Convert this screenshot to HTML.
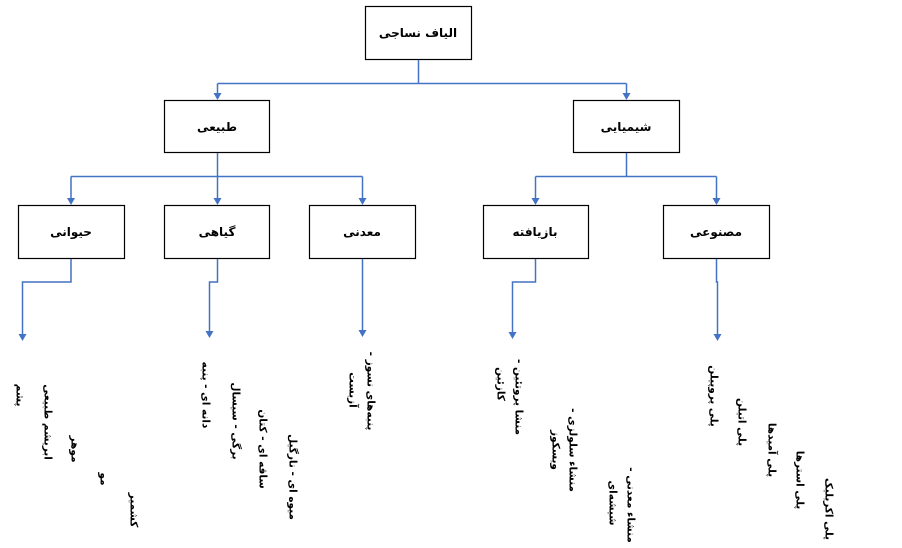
<!DOCTYPE html>
<html>
<head>
<meta charset="utf-8">
<style>
html,body{margin:0;padding:0;background:#fff;}
#c{position:relative;width:902px;height:548px;overflow:hidden;background:#fff;}
svg{position:absolute;left:0;top:0;}
.b{position:absolute;font-family:"DejaVu Sans","Liberation Sans",sans-serif;font-weight:bold;font-size:12px;color:#000;white-space:nowrap;transform:translate(-50%,-50%);direction:rtl;}
.r{position:absolute;font-family:"DejaVu Sans","Liberation Sans",sans-serif;font-weight:bold;font-size:10.5px;color:#000;white-space:nowrap;transform:translate(-50%,-50%) rotate(90deg);direction:rtl;line-height:1;}
</style>
</head>
<body>
<div id="c">
<svg width="902" height="548" viewBox="0 0 902 548">
<g fill="#fff" stroke="#000" stroke-width="1.2">
<rect x="365.5" y="6.5" width="106" height="53"/>
<rect x="164.5" y="100.5" width="105" height="52"/>
<rect x="573.5" y="100.5" width="106" height="52"/>
<rect x="18.5" y="205.5" width="106" height="53"/>
<rect x="164.5" y="205.5" width="105" height="53"/>
<rect x="309.5" y="205.5" width="106" height="53"/>
<rect x="483.5" y="205.5" width="105" height="53"/>
<rect x="663.5" y="205.5" width="106" height="53"/>
</g>
<g fill="none" stroke="#4472C4" stroke-width="1.5">
<path d="M418.5,60 V83.5 M217.5,83.5 H626.5 M217.5,83.5 V94 M626.5,83.5 V94"/>
<path d="M217.5,153 V176.5 M71,176.5 H362.5 M71,176.5 V199 M217.5,176.5 V199 M362.5,176.5 V199"/>
<path d="M626.5,153 V176.5 M535.5,176.5 H716.5 M535.5,176.5 V199 M716.5,176.5 V199"/>
<path d="M71,259 V282 H22.5 V335"/>
<path d="M217.5,259 V282 H209.5 V332"/>
<path d="M362.5,259 V331"/>
<path d="M535.5,259 V282 H512.5 V333"/>
<path d="M716.5,259 V282 H717.5 V335"/>
</g>
<g fill="#4472C4">
<polygon points="213.5,93 221.5,93 217.5,100"/>
<polygon points="622.5,93 630.5,93 626.5,100"/>
<polygon points="67,198 75,198 71,205"/>
<polygon points="213.5,198 221.5,198 217.5,205"/>
<polygon points="358.5,198 366.5,198 362.5,205"/>
<polygon points="531.5,198 539.5,198 535.5,205"/>
<polygon points="712.5,198 720.5,198 716.5,205"/>
<polygon points="18.5,334 26.5,334 22.5,341"/>
<polygon points="205.5,331 213.5,331 209.5,338"/>
<polygon points="358.5,330 366.5,330 362.5,337"/>
<polygon points="508.5,332 516.5,332 512.5,339"/>
<polygon points="713.5,334 721.5,334 717.5,341"/>
</g>
</svg>

<div class="b" style="left:418px;top:33px;">الیاف نساجی</div>
<div class="b" style="left:217px;top:127px;">طبیعی</div>
<div class="b" style="left:626px;top:127px;">شیمیایی</div>
<div class="b" style="left:71px;top:232px;">حیوانی</div>
<div class="b" style="left:217px;top:232px;">گیاهی</div>
<div class="b" style="left:362px;top:232px;">معدنی</div>
<div class="b" style="left:535px;top:232px;">بازیافته</div>
<div class="b" style="left:716px;top:232px;">مصنوعی</div>

<!-- حیوانی -->
<div class="r" style="left:19px;top:395px;">پشم</div>
<div class="r" style="left:47px;top:422px;">ابریشم طبیعی</div>
<div class="r" style="left:74px;top:449px;">موهر</div>
<div class="r" style="left:103px;top:479px;">مو</div>
<div class="r" style="left:133px;top:510px;">کشمیر</div>

<!-- گیاهی -->
<div class="r" style="left:205px;top:395px;">دانه ای - پنبه</div>
<div class="r" style="left:235px;top:421px;">برگی - سیسال</div>
<div class="r" style="left:262px;top:449px;">ساقه ای - کتان</div>
<div class="r" style="left:292px;top:477px;">میوه ای - نارگیل</div>

<!-- معدنی -->
<div class="r" style="left:370px;top:391px;">پنبه‌های نسوز -</div>
<div class="r" style="left:352px;top:390px;">آزبست</div>

<!-- بازیافته -->
<div class="r" style="left:518px;top:397px;">منشا پروتئین -</div>
<div class="r" style="left:500px;top:384px;">کازئین</div>
<div class="r" style="left:572px;top:450px;">منشاء سلولزی -</div>
<div class="r" style="left:555px;top:450px;">ویسکوز</div>
<div class="r" style="left:630px;top:505px;">منشاء معدنی -</div>
<div class="r" style="left:612px;top:503px;">شیشه‌ای</div>

<!-- مصنوعی -->
<div class="r" style="left:713px;top:396px;">پلی پروپیلن</div>
<div class="r" style="left:741px;top:422px;">پلی اتیلن</div>
<div class="r" style="left:771px;top:450px;">پلی آمیدها</div>
<div class="r" style="left:799px;top:480px;">پلی استرها</div>
<div class="r" style="left:828px;top:509px;">پلی اکریلیک</div>
</div>
</body>
</html>
